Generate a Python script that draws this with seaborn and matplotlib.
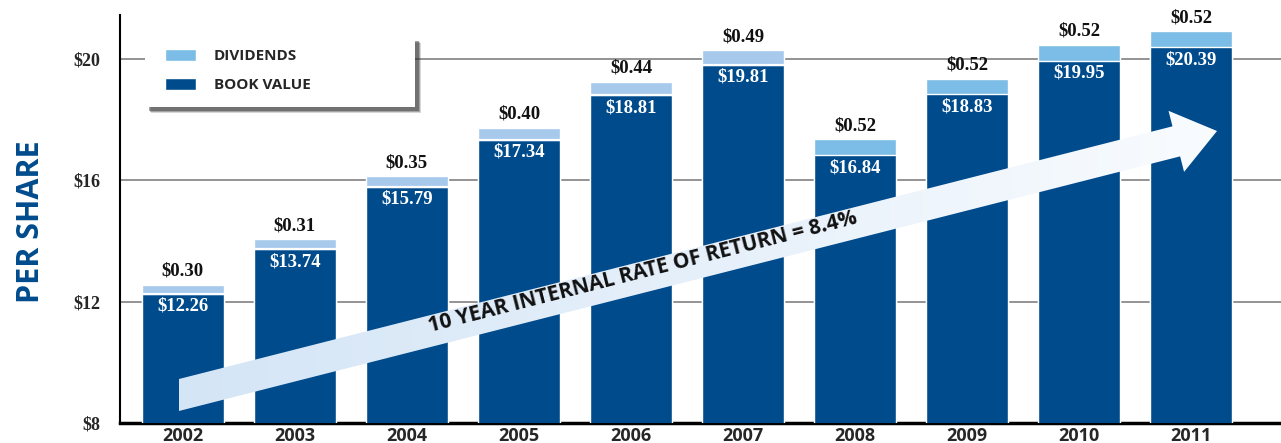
import numpy as np
import pandas as pd
import matplotlib.pyplot as plt
import seaborn as sns
from matplotlib.patches import Polygon, Rectangle, Patch
from matplotlib.transforms import IdentityTransform, offset_copy
from matplotlib.colors import LinearSegmentedColormap

# datos del grafico
years = ['2002', '2003', '2004', '2005', '2006', '2007', '2008', '2009', '2010', '2011']
book_value = [12.26, 13.74, 15.79, 17.34, 18.81, 19.81, 16.84, 18.83, 19.95, 20.39]
dividends = [0.30, 0.31, 0.35, 0.40, 0.44, 0.49, 0.52, 0.52, 0.52, 0.52]
y_ticks = [8, 12, 16, 20]
arrow_label = '10 YEAR INTERNAL RATE OF RETURN = 8.4%'

dark_blue = '#004b8c'
div_light = '#a7c9eb'
div_mid = '#7bbde6'
div_palette = [div_light] * 6 + [div_mid] * 4

df = pd.DataFrame({'year': years, 'book': book_value, 'div': dividends})
df['total'] = df['book'] + df['div']

sns.set_style('white')
serif = 'Liberation Serif'
sans = 'Open Sans'

fig = plt.figure(figsize=(12.81, 4.43), dpi=100)
ax = fig.add_axes([120 / 1281, 20 / 443, 1161 / 1281, 408 / 443])

# barras: total (dividendos) debajo, valor libro encima
sns.barplot(data=df, x='year', y='total', hue='year', palette=div_palette,
            legend=False, width=0.73, saturation=1, ax=ax, zorder=2)
sns.barplot(data=df, x='year', y='book', color=dark_blue,
            width=0.73, saturation=1, ax=ax, zorder=3)

# separacion blanca en los anos con dividendo claro
for i, (b, c) in enumerate(zip(book_value, div_palette)):
    if c == div_light:
        ax.hlines(b, i - 0.365, i + 0.365, color='white', lw=1.6, zorder=4)

# etiquetas de valores
for i, (b, d) in enumerate(zip(book_value, dividends)):
    ax.annotate(f'${d:.2f}', (i, b + d), xytext=(0, 3.5), textcoords='offset points',
                ha='center', va='bottom', fontsize=13.5, fontweight='bold',
                family=serif, color='#111111', zorder=7)
    ax.annotate(f'${b:.2f}', (i, b), xytext=(0, -3), textcoords='offset points',
                ha='center', va='top', fontsize=13.5, fontweight='bold',
                family=serif, color='white', zorder=7)

ax.set_xlim(-0.56, 9.8)
ax.set_ylim(8, 21.45)
ax.set_yticks(y_ticks)
ax.set_yticklabels([f'${v}' for v in y_ticks], family=serif, fontweight='bold', fontsize=13)
ax.set_xticks(range(len(years)))
ax.set_xticklabels(years, family=sans, fontweight='bold', fontsize=13)
ax.tick_params(axis='y', length=0, pad=14)
ax.tick_params(axis='x', length=0, pad=3)
ax.set_xlabel('')
ax.set_ylabel('')
ax.yaxis.grid(True, color='#8a8a8a', lw=1.3)
ax.set_axisbelow(True)
sns.despine(ax=ax, top=True, right=True)
ax.spines['left'].set_linewidth(1.5)
ax.spines['left'].set_color('black')
ax.spines['bottom'].set_linewidth(2.5)
ax.spines['bottom'].set_color('black')

# flecha con degradado
T = ax.transAxes.transform(((179 - 120) / 1161, (423 - 395) / 408))
P = ax.transAxes.transform(((1217 - 120) / 1161, (423 - 131) / 408))
d = P - T
u = d / np.hypot(*d)
n = np.array([-u[1], u[0]])
hw, hh, hl = 15.5, 31.5, 42
base = P - hl * u
tail_top = T + np.array([0, hw / u[0]])
tail_bot = T - np.array([0, hw / u[0]])
pts = [tail_top, base + hw * n, base + hh * n, P, base - hh * n, base - hw * n, tail_bot]
arrow = Polygon(pts, closed=True, transform=IdentityTransform(),
                facecolor='none', edgecolor='none', zorder=5)
ax.add_patch(arrow)
cmap = LinearSegmentedColormap.from_list('arr', ['#d2e4f6', '#e6f0fa', '#fbfdff'])
grad = np.linspace(0, 1, 256).reshape(1, -1)
im = ax.imshow(grad, cmap=cmap, extent=[0, 1, 0, 1], transform=ax.transAxes,
               aspect='auto', zorder=5, interpolation='bilinear')
im.set_clip_path(arrow)
ax.set_xlim(-0.56, 9.8)
ax.set_ylim(8, 21.45)

angle = np.degrees(np.arctan2(d[1], d[0]))
ax.text((643 - 120) / 1161, (423 - 272) / 408, arrow_label, transform=ax.transAxes,
        rotation=angle, rotation_mode='anchor', ha='center', va='center',
        family=sans, fontweight='bold', fontsize=15, color='#111111', zorder=6)

# caja de la leyenda con sombra
box = (25 / 1161, (423 - 107) / 408, 270 / 1161, 70 / 408)
for k, a in [(6, 0.2), (5, 0.3), (4, 0.45)]:
    sh = Rectangle(box[:2], box[2], box[3], facecolor='#333333', edgecolor='none', alpha=a,
                   transform=offset_copy(ax.transAxes, fig, x=k, y=-k, units='dots'), zorder=8)
    ax.add_patch(sh)
ax.add_patch(Rectangle(box[:2], box[2], box[3], facecolor='white', edgecolor='none',
                       transform=ax.transAxes, zorder=9))

handles = [Patch(facecolor=div_mid, label='DIVIDENDS'),
           Patch(facecolor=dark_blue, label='BOOK VALUE')]
leg = ax.legend(handles=handles, loc='upper left', bbox_to_anchor=(45 / 1161, (423 - 49) / 408),
                frameon=False, borderpad=0, borderaxespad=0, handlelength=2.0,
                handleheight=0.85, handletextpad=1.2, labelspacing=0.95,
                prop={'family': sans, 'weight': 'bold', 'size': 11})
leg.set_zorder(10)

fig.text(31 / 1281, 1 - 222 / 443, 'PER SHARE', rotation=90, color=dark_blue,
         fontsize=22, fontweight='bold', family=sans, ha='center', va='center')

fig.savefig('out.png', dpi=100)
